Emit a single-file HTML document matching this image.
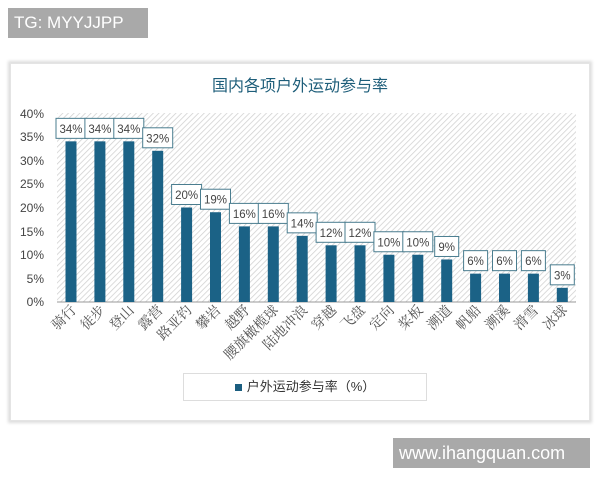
<!DOCTYPE html>
<html><head><meta charset="utf-8"><style>
body{margin:0;width:600px;height:480px;background:#fff;position:relative;overflow:hidden;font-family:"Liberation Sans","Noto Sans CJK SC",sans-serif}
.card{position:absolute;left:10px;top:63px;width:578px;height:356px;background:#fff;box-shadow:0 0 3px 2px #ddd;border:1px solid #e4e4e4}
.tg{position:absolute;left:8px;top:8px;width:140px;height:30px;background:#a9a9a9;color:#fff;font-size:17px;line-height:30px;padding-left:6px;box-sizing:border-box}
.wm{position:absolute;left:393px;top:438px;width:197px;height:30px;background:#a9a9a9;color:#fff;font-size:18px;line-height:30px;padding-left:6px;box-sizing:border-box}
</style></head><body>
<div class="tg">TG: MYYJJPP</div>
<div class="card"></div>
<svg style="position:absolute;left:0;top:0" width="600" height="480">
<defs><pattern id="h" width="4" height="4" patternUnits="userSpaceOnUse" patternTransform="rotate(45)"><line x1="0" y1="0" x2="0" y2="4" stroke="#cfcfcf" stroke-width="1.5"/></pattern></defs>
<text x="300" y="91" text-anchor="middle" font-size="16" fill="#1e5e7a" font-family="Liberation Sans,Noto Sans CJK SC,sans-serif">国内各项户外运动参与率</text>
<rect x="57" y="113" width="519" height="189" fill="url(#h)"/>
<line x1="57" y1="302" x2="576" y2="302" stroke="#999"/>
<g font-size="12" fill="#444" text-anchor="end">
<text x="44" y="118">40%</text><text x="44" y="141">35%</text><text x="44" y="165">30%</text><text x="44" y="188">25%</text><text x="44" y="212">20%</text><text x="44" y="236">15%</text><text x="44" y="259">10%</text><text x="44" y="283">5%</text><text x="44" y="306">0%</text>
</g>
<g id="bars"></g>
</svg>
<div style="position:absolute;left:183px;top:373px;width:244px;height:28px;border:1px solid #ddd;box-sizing:border-box;text-align:center;font-size:13px;line-height:26px;color:#333"><span style="display:inline-block;width:7px;height:7px;background:#1b5e80;margin-right:5px"></span>户外运动参与率（%）</div>
<div class="wm">www.ihangquan.com</div>
<script>
var d=[["骑行",34],["徒步",34],["登山",34],["露营",32],["路亚钓",20],["攀岩",19],["越野",16],["腰旗橄榄球",16],["陆地冲浪",14],["穿越",12],["飞盘",12],["定向",10],["桨板",10],["溯道",9],["帆船",6],["溯溪",6],["滑雪",6],["冰球",3]];
var g=document.getElementById('bars'),s='';
d.forEach(function(e,i){var cx=71+i*28.9,top=302-e[1]*4.725;
s+='<rect x="'+(cx-5.5)+'" y="'+top+'" width="11" height="'+(302-top)+'" fill="#1b6286"/>';
var bw=e[1]<10?24:30;
s+='<rect x="'+(cx-bw/2)+'" y="'+(top-23)+'" width="'+bw+'" height="20" fill="#fff" stroke="#4a7d8f" stroke-width="1"/>';
s+='<text x="'+cx+'" y="'+(top-8.5)+'" text-anchor="middle" font-size="11.5" fill="#444">'+e[1]+'%</text>';
s+='<text transform="translate('+(cx+6)+',311) rotate(-45)" text-anchor="end" font-size="14" fill="#555" font-family="Noto Serif CJK SC,serif">'+e[0]+'</text>';});
g.innerHTML=s;
</script>
</body></html>
